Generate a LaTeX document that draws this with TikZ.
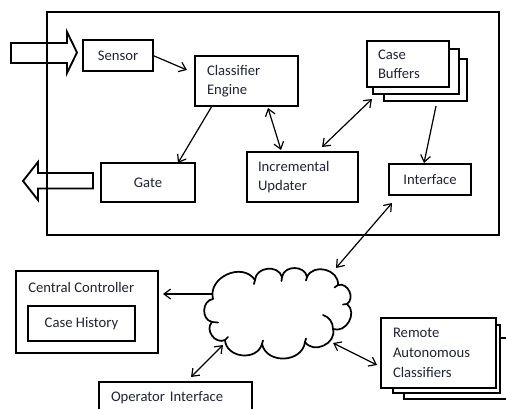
\documentclass[tikz,border=0pt]{standalone}
\usepackage{fontspec}
\setmainfont{Carlito}
\usetikzlibrary{arrows.meta,calc}
\definecolor{ink}{RGB}{31,36,56}

\begin{document}
\begin{tikzpicture}[x=0.75pt,y=-0.75pt,
  every node/.style={font=\fontsize{11}{14.25}\selectfont, text=ink},
  box/.style={draw=black, line width=1.2pt, fill=white, anchor=north west,
              inner ysep=0pt, outer sep=0pt},
  plain/.style={box, align=center, inner xsep=0pt},
  lefttext/.style={box, align=left, inner xsep=#1},
  conn/.style={line width=0.9pt, -{Straight Barb[length=5pt,width=7.5pt]}},
  bothconn/.style={line width=0.9pt,
     {Straight Barb[length=5pt,width=7.5pt]}-{Straight Barb[length=5pt,width=7.5pt]}},
  blockarrow/.style={draw=black, line width=1.4pt, fill=white, line join=miter},
  puff/.style={out=80, in=100, relative, looseness=1.25},
  cloudline/.style={draw=black, line width=1.3pt, line join=round, line cap=round},
]
\useasboundingbox (0,0) rectangle (506,409);
\clip (0,0) rectangle (506,409);

% input and output block arrows
\draw[blockarrow] (11,43) -- (67,43) -- (67,32) -- (77,52.5) -- (67,73) -- (67,63) -- (11,63) -- cycle;
\draw[blockarrow] (93,173) -- (38,173) -- (38,162) -- (23,181) -- (38,200) -- (38,188.5) -- (93,188.5) -- cycle;

% system boundary
\node[draw=black, line width=1.9pt, anchor=north west, outer sep=0pt, inner sep=0pt,
      minimum width=339pt, minimum height=167.25pt] (sys) at (47,12) {};

% components inside the system
\node[plain, minimum width=52.5pt, minimum height=23.25pt] (sensor) at (83,40) {Sensor};
\node[lefttext=9pt, text width=59.25pt, minimum height=37.5pt] (ce) at (195,56) {Classifier\\Engine};
\node[plain, minimum width=70.5pt, minimum height=29.25pt] (gate) at (101,163) {Gate};
\node[lefttext=8.25pt, text width=66.75pt, minimum height=37.5pt] (iu) at (247,152) {Incremental\\Updater};

% stacked case buffers
\node[box, minimum width=62.25pt, minimum height=31.5pt] (cb3) at (384,59) {};
\node[box, minimum width=64.5pt, minimum height=33.75pt] (cb2) at (373,49) {};
\node[lefttext=8.25pt, text width=45pt, minimum height=34.5pt] (cb) at (367,41) {Case\\Buffers};

\node[plain, minimum width=61.5pt, minimum height=23.25pt] (iface) at (389,164) {Interface};

% connectors inside the system
\draw[conn] (sensor.east) -- ($(ce.north west)+(-8,14)$);
\draw[conn] ($(ce.south west)+(17,0)$) -- ($(gate.north west)+(77,0)$);
\draw[bothconn] ($(ce.south west)+(73,2)$) -- ($(iu.north west)+(34,-2)$);
\draw[bothconn] ($(iu.north west)+(75,-5)$) -- ($(cb.south west)+(5,12)$);
\draw[conn] ($(cb.south west)+(69,19)$) -- ($(iface.north west)+(35,-1)$);

% network cloud
\coordinate (net) at (278,313);
\draw[cloudline]
  (213,299) to[puff] (255,280) to[puff] (282,277) to[puff] (307,277)
  to[puff] (338,285) to[puff] (347,304) to[puff] (333,329)
  to[puff] (305,342) to[puff] (262,344) to[puff] (225,340)
  to[puff] (212,322) to[puff] cycle;
\draw[cloudline] (323,315) .. controls (329,317) and (333,322) .. (333,329);
\draw[cloudline] (255,280) -- (254,284);
\draw[cloudline] (282,277) -- (281.5,281);
\draw[cloudline] (307,277) -- (306,280.5);
\draw[cloudline] (338,285) -- (334.5,287.5);
\draw[cloudline] (347,304) -- (343,304.5);
\draw[cloudline] (305,342) -- (306,338.5);
\draw[cloudline] (262,344) -- (263,340.5);
\draw[cloudline] (225,340) -- (228,337);
\draw[cloudline] (212,322) -- (218,322.5);

% outside components
\node[box, minimum width=106.5pt, minimum height=61.5pt] (cc) at (16,271) {};
\node[anchor=west, inner sep=0pt] (cclabel) at (28,287) {Central Controller};
\node[plain, minimum width=80.25pt, minimum height=26.25pt] (ch) at (28,306) {Case History};
\node[lefttext=9pt, text width=96.75pt, minimum height=24pt] (op) at (99,382) {Operator Interface};

% stacked remote classifiers
\node[box, minimum width=94.5pt, minimum height=45.75pt] (rac3) at (404,338) {};
\node[box, minimum width=80.25pt, minimum height=51pt] (rac2) at (393,325) {};
\node[lefttext=9pt, text width=68.25pt, minimum height=52.5pt,
      font=\fontsize{11}{15}\selectfont] (rac) at (381,318) {Remote\\Autonomous\\Classifiers};

% network connectors
\draw[bothconn] ($(iface.south west)+(3,8)$) -- ($(net)+(58,-45)$);
\draw[conn] ($(net)+(-65,-19)$) -- ($(cc.north east)+(5,23)$);
\draw[bothconn] ($(net)+(-55,32)$) -- ($(op.north west)+(92,-5)$);
\draw[bothconn] ($(net)+(55,30)$) -- ($(rac.north west)+(-4,47)$);
\end{tikzpicture}
\end{document}
